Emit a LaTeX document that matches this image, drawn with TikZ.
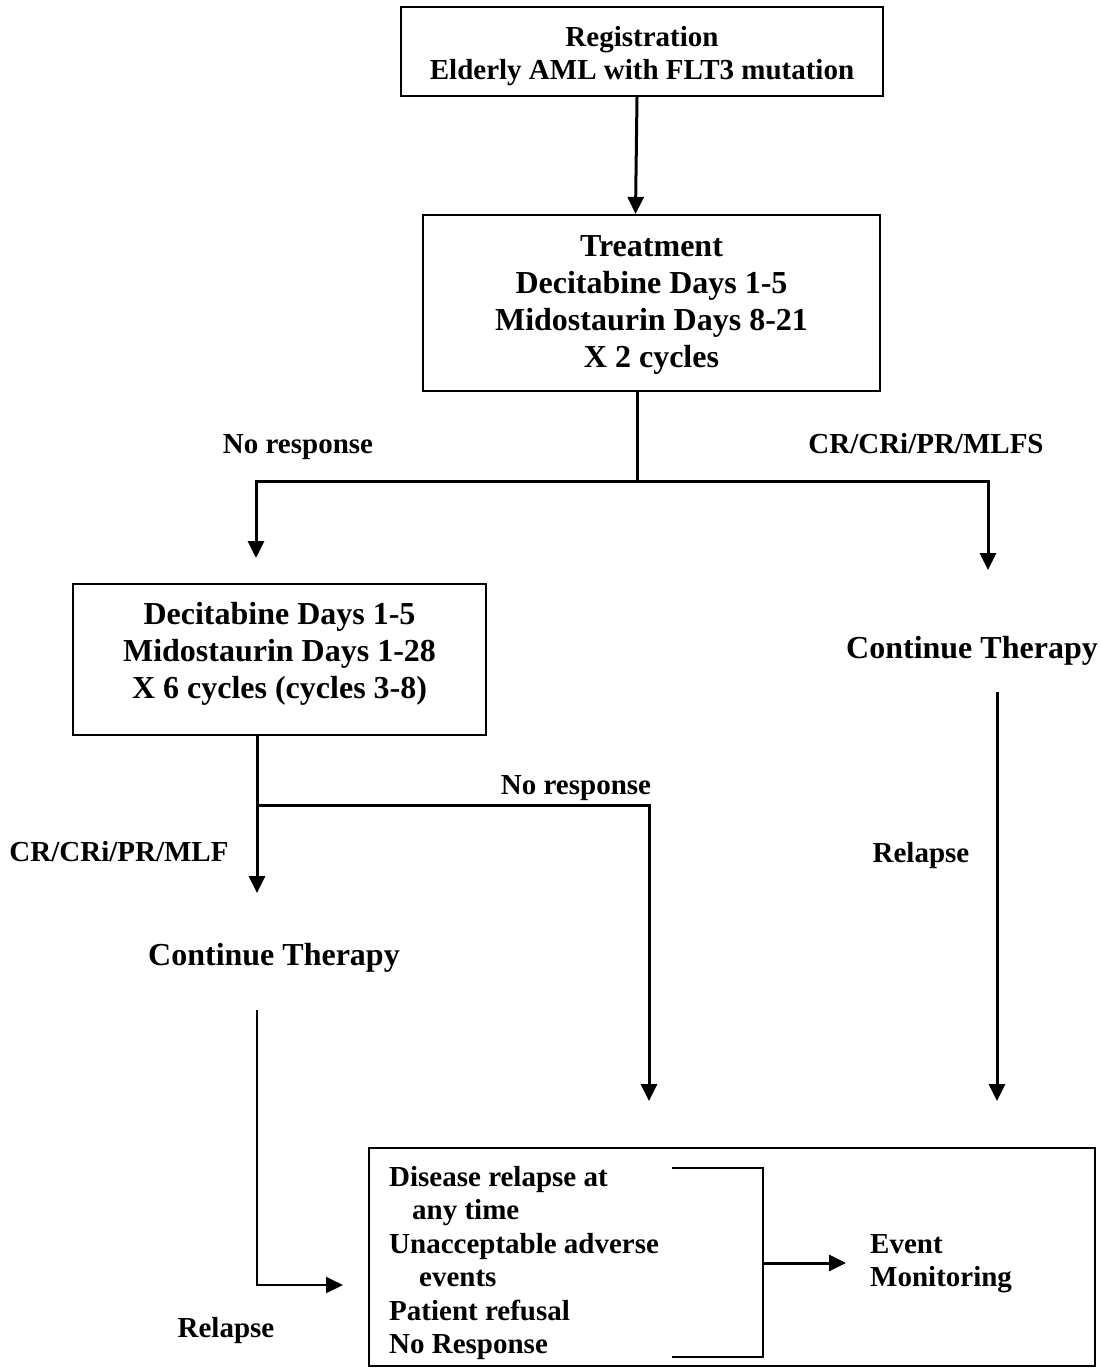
\documentclass[tikz,border=0pt]{standalone}
\usepackage{fontspec}
\setmainfont{Liberation Serif}
\usetikzlibrary{arrows.meta}
\begin{document}
\begin{tikzpicture}[x=1pt,y=-1pt,
  frame/.style={draw,line width=2.2pt,inner sep=0pt},
  boxtext/.style={inner sep=0pt,align=center,font=\bfseries\fontsize{32}{37}\selectfont},
  lbl/.style={inner sep=0pt,font=\bfseries\fontsize{29}{33.5}\selectfont},
  big/.style={inner sep=0pt,font=\bfseries\fontsize{32}{37}\selectfont},
  arr/.style={line width=3pt,-{Triangle[length=17pt,width=16pt]}},
  ln/.style={line width=3pt}]
\path[use as bounding box] (0,0) rectangle (1102,1368);

% boxes
\node[frame,minimum width=482pt,minimum height=89pt] (reg) at (642,51.5) {};
\node[boxtext,font=\bfseries\fontsize{29}{33}\selectfont] (regt) at (642,56.5) {Registration\\Elderly AML with FLT3 mutation};
\node[frame,minimum width=457pt,minimum height=176pt] (treat) at (651.5,303) {};
\node[boxtext] (treatt) at (651.5,305) {Treatment\\Decitabine Days 1-5\\Midostaurin Days 8-21\\X 2 cycles};
\node[frame,minimum width=413pt,minimum height=151pt] (dm) at (279.5,659.5) {};
\node[boxtext] (dmt) at (279.5,653.5) {Decitabine Days 1-5\\Midostaurin Days 1-28\\X 6 cycles (cycles 3-8)};
\node[frame,minimum width=726pt,minimum height=218pt] (out) at (732,1257) {};

% plain texts
\node[big,anchor=base] (ct1) at (972,658) {Continue Therapy};
\node[big,anchor=base] (ct2) at (274,965) {Continue Therapy};
\node[lbl,anchor=base] (l1) at (298,453) {No response};
\node[lbl,anchor=base] (l2) at (926,453) {CR/CRi/PR/MLFS};
\node[lbl,anchor=base] (l3) at (576,794) {No response};
\node[lbl,anchor=base] (l4) at (119,861) {CR/CRi/PR/MLF};
\node[lbl,anchor=base] (l5) at (921,862) {Relapse};
\node[lbl,anchor=base] (l6) at (226,1337) {Relapse};

\node[lbl,align=left,anchor=north west] (list) at (389,1166) {Disease relapse at\\\hspace*{23pt}any time\\Unacceptable adverse\\\hspace*{30pt}events\\Patient refusal\\No Response};
\node[lbl,align=left,anchor=north west] (ev) at (870,1234) {Event\\Monitoring};

% connectors
\draw[arr] ([xshift=-5pt]reg.south) -- ([xshift=-16pt]treat.north);
\coordinate (s1) at (637,481);
\coordinate (a1) at (256,558);
\coordinate (a2) at (988,570);
\draw[ln] ([xshift=-14.5pt]treat.south) -- (s1);
\draw[arr] (s1) -| (a1);
\draw[arr] (s1) -| (a2);

\coordinate (r1) at (997,692);
\coordinate (r2) at (997,1101);
\draw[arr] (r1) -- (r2);

\coordinate (c1) at (257,893);
\coordinate (s2) at (257,805);
\coordinate (c2) at (649,1101);
\draw[arr] ([xshift=-22.5pt]dm.south) -- (c1);
\draw[arr] (s2) -| (c2);

\coordinate (c3) at (257,1010);
\coordinate (c4) at (343,1285);
\draw[arr,line width=2pt] (c3) |- (c4);

% bracket
\coordinate (bt) at (672,1168);
\coordinate (bb) at (672,1357);
\coordinate (bm) at (763,1263);
\draw[line width=2.4pt] (bt) -- (763,1168) -- (763,1357) -- (bb);
\draw[arr] (bm) -- ([xshift=-24pt]bm -| ev.west);
\end{tikzpicture}
\end{document}
